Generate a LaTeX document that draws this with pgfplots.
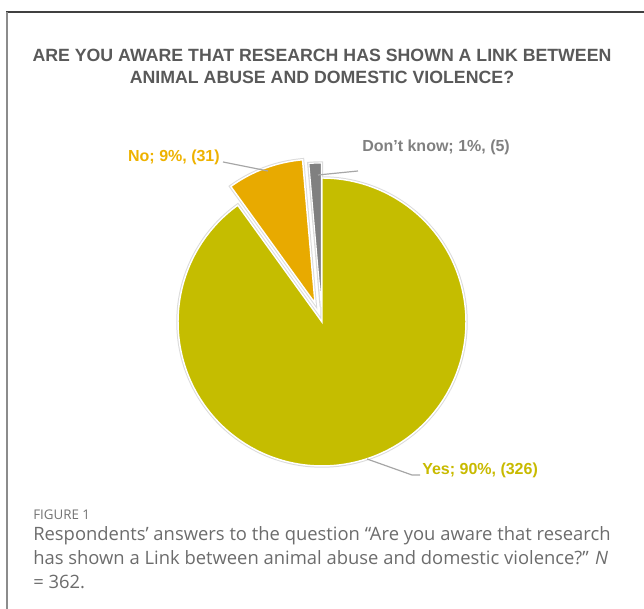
\documentclass[border=0pt]{standalone}
\usepackage{pgfplots}
\usepackage{pgfplotstable}
\pgfplotsset{compat=1.18}
\usepackage{fontspec}
\setmainfont{Liberation Sans}
\newfontfamily\capfont{Open Sans}
\definecolor{yescol}{RGB}{197,189,0}
\definecolor{nocol}{RGB}{232,170,0}
\definecolor{dkcol}{RGB}{128,128,128}
\definecolor{yeslab}{RGB}{200,186,0}
\definecolor{nolab}{RGB}{238,178,0}
\definecolor{dklab}{RGB}{128,128,128}
\definecolor{titlecol}{RGB}{89,89,89}
\definecolor{leader}{RGB}{166,166,166}
\definecolor{captxt}{RGB}{108,108,108}
\pgfplotstableread{
label value
Yes 326
No 31
DK 5
}\piedata
\pgfplotstablegetelem{0}{value}\of\piedata \let\vyes\pgfplotsretval%
\pgfplotstablegetelem{1}{value}\of\piedata \let\vno\pgfplotsretval%
\pgfplotstablegetelem{2}{value}\of\piedata \let\vdk\pgfplotsretval%
\pgfmathsetmacro{\tot}{\vyes+\vno+\vdk}%
\pgfmathsetmacro{\aA}{90}%
\pgfmathsetmacro{\aB}{90-360*(\vyes/\tot)}%
\pgfmathsetmacro{\aC}{\aB-360*(\vno/\tot)}%
\pgfmathsetmacro{\aD}{\aC-360*(\vdk/\tot)}%
\pgfmathsetmacro{\mno}{(\aB+\aC)/2}%
\pgfmathsetmacro{\mdk}{(\aC+\aD)/2}%
\def\cx{322}\def\cy{287}\def\R{144}%
\pgfmathsetmacro{\nox}{\cx+20*cos(\mno)}%
\pgfmathsetmacro{\noy}{\cy+20*sin(\mno)}%
\pgfmathsetmacro{\dkx}{\cx+15*cos(\mdk)}%
\pgfmathsetmacro{\dky}{\cy+15*sin(\mdk)}%
\begin{document}%
\begin{tikzpicture}
\begin{axis}[at={(0,0)}, anchor=south west, scale only axis,
  width=483pt, height=456.75pt,
  xmin=0, xmax=644, ymin=0, ymax=609,
  hide axis, clip=false]
% shadows
\addplot[draw=black!14, line width=2.6pt, fill=none, domain=\aB:\aA, samples=200, variable=\t]
  ({\cx+\R*cos(t)},{\cy+\R*sin(t)}) -- (\cx,\cy) -- cycle;
\addplot[draw=black!14, line width=2.6pt, fill=none, domain=\aC:\aB, samples=40, variable=\t]
  ({\nox+\R*cos(t)},{\noy+\R*sin(t)}) -- (\nox,\noy) -- cycle;
\addplot[draw=black!14, line width=2.6pt, fill=none, domain=\aD:\aC, samples=10, variable=\t]
  ({\dkx+\R*cos(t)},{\dky+\R*sin(t)}) -- (\dkx,\dky) -- cycle;
% sectors
\addplot[draw=white, line width=1.1pt, fill=yescol, domain=\aB:\aA, samples=200, variable=\t]
  ({\cx+\R*cos(t)},{\cy+\R*sin(t)}) -- (\cx,\cy) -- cycle;
\addplot[draw=white, line width=1.1pt, fill=nocol, domain=\aC:\aB, samples=40, variable=\t]
  ({\nox+\R*cos(t)},{\noy+\R*sin(t)}) -- (\nox,\noy) -- cycle;
\addplot[draw=white, line width=0.8pt, fill=dkcol, domain=\aD:\aC, samples=10, variable=\t]
  ({\dkx+\R*cos(t)},{\dky+\R*sin(t)}) -- (\dkx,\dky) -- cycle;
% frame
\draw[black!75, line width=1pt] (6,597) -- (644,597);
\draw[black!45, line width=1.2pt] (7,597) -- (7,0);
% title
\node[font=\bfseries\fontsize{13.3}{16.5}\selectfont, text=titlecol, align=center] at (322,543)
  {ARE YOU AWARE THAT RESEARCH HAS SHOWN A LINK BETWEEN\\ANIMAL ABUSE AND DOMESTIC VIOLENCE?};
% leader lines
\draw[leader, line width=0.9pt] (223,447) -- (268,438);
\draw[leader, line width=0.9pt] (318,434) -- (358,438);
\draw[leader, line width=0.9pt] (367,150) -- (412,134) -- (420,134);
% labels
\node[anchor=east, inner sep=0pt, font=\bfseries\fontsize{12}{14}\selectfont, text=nolab] at (220,452) {No; 9\%, (31)};
\node[anchor=west, inner sep=0pt, font=\bfseries\fontsize{12}{14}\selectfont, text=dklab] at (362,462) {Don't know; 1\%, (5)};
\node[anchor=west, inner sep=0pt, font=\bfseries\fontsize{12}{14}\selectfont, text=yeslab] at (422,139) {Yes; 90\%, (326)};
% caption
\node[anchor=west, inner sep=0pt, font=\capfont\fontsize{10}{12}\selectfont, text=black!55] at (33,94) {FIGURE 1};
\node[anchor=north west, inner sep=0pt, align=left, font=\capfont\fontsize{13.8}{18}\selectfont, text=captxt] at (33,83)
  {Respondents’ answers to the question “Are you aware that research\\
   has shown a Link between animal abuse and domestic violence?” \textit{N}\\
   = 362.};
\end{axis}
\pgfresetboundingbox
\useasboundingbox (current axis.south west) rectangle (current axis.north east);
\end{tikzpicture}%
\end{document}
